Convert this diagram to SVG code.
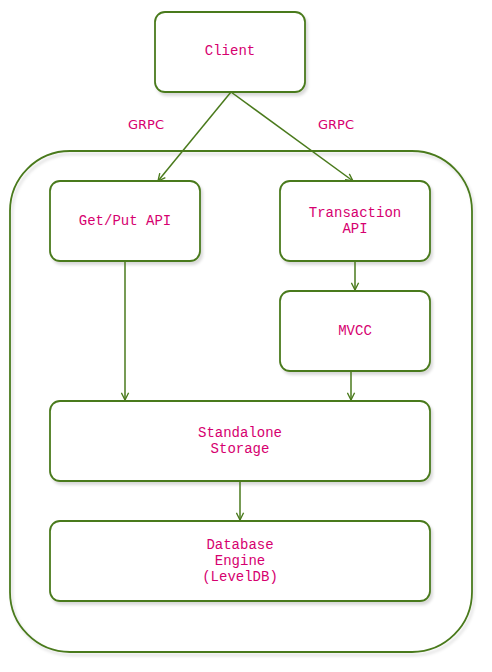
<svg xmlns="http://www.w3.org/2000/svg" width="492" height="672" viewBox="0 0 492 672">
<style>
.box{fill:#ffffff;stroke:#4A7A1C;stroke-width:1.8}
.outer{fill:none;stroke:#4A7A1C;stroke-width:1.8}
.lbl{font-family:"Liberation Mono","DejaVu Sans Mono",monospace;font-size:14px;fill:#D6006F;text-anchor:middle}
.edge{fill:none;stroke:#4A7A1C;stroke-width:1.5}
.glbl{font-family:"DejaVu Sans","Liberation Sans",sans-serif;font-size:13px;fill:#D6006F;text-anchor:middle}
</style>
<defs>
<marker id="arr" viewBox="0 0 10 10" refX="9" refY="5" markerWidth="9" markerHeight="9" orient="auto" markerUnits="userSpaceOnUse">
<path d="M1,1 L9,5 L1,9" fill="none" stroke="#4A7A1C" stroke-width="1.5"/>
</marker>
<filter id="sh" x="-10%" y="-10%" width="130%" height="130%">
<feDropShadow dx="2" dy="3" stdDeviation="1.5" flood-color="#000" flood-opacity="0.15"/>
</filter>
</defs>
<rect width="492" height="672" fill="#ffffff"/>
<g id="container"><rect class="outer" x="10" y="151" width="462" height="501" rx="60" filter="url(#sh)"/></g>
<g id="client"><rect class="box" x="155" y="12" width="150" height="80" rx="10" filter="url(#sh)"/><text class="lbl" x="230" y="55">Client</text></g>
<g id="getput"><rect class="box" x="50" y="181" width="150" height="80" rx="10" filter="url(#sh)"/><text class="lbl" x="125" y="225">Get/Put API</text></g>
<g id="transaction"><rect class="box" x="280" y="181" width="150" height="80" rx="10" filter="url(#sh)"/><text class="lbl" x="355" y="217">Transaction</text><text class="lbl" x="355" y="233">API</text></g>
<g id="mvcc"><rect class="box" x="280" y="291" width="150" height="80" rx="10" filter="url(#sh)"/><text class="lbl" x="355" y="335">MVCC</text></g>
<g id="standalone"><rect class="box" x="50" y="401" width="380" height="80" rx="10" filter="url(#sh)"/><text class="lbl" x="240" y="437">Standalone</text><text class="lbl" x="240" y="453">Storage</text></g>
<g id="engine"><rect class="box" x="50" y="521" width="380" height="80" rx="10" filter="url(#sh)"/><text class="lbl" x="240" y="549">Database</text><text class="lbl" x="240" y="565">Engine</text><text class="lbl" x="240" y="581">(LevelDB)</text></g>
<g id="connectors">
<path class="edge" d="M231,92 L158,181" marker-end="url(#arr)"/>
<path class="edge" d="M231,92 L353,181" marker-end="url(#arr)"/>
<path class="edge" d="M125,261 L125,400" marker-end="url(#arr)"/>
<path class="edge" d="M355,261 L355,290" marker-end="url(#arr)"/>
<path class="edge" d="M351,371 L351,400" marker-end="url(#arr)"/>
<path class="edge" d="M240,481 L240,520" marker-end="url(#arr)"/>
<text class="glbl" x="146" y="129">GRPC</text>
<text class="glbl" x="336" y="129">GRPC</text>
</g>
</svg>
